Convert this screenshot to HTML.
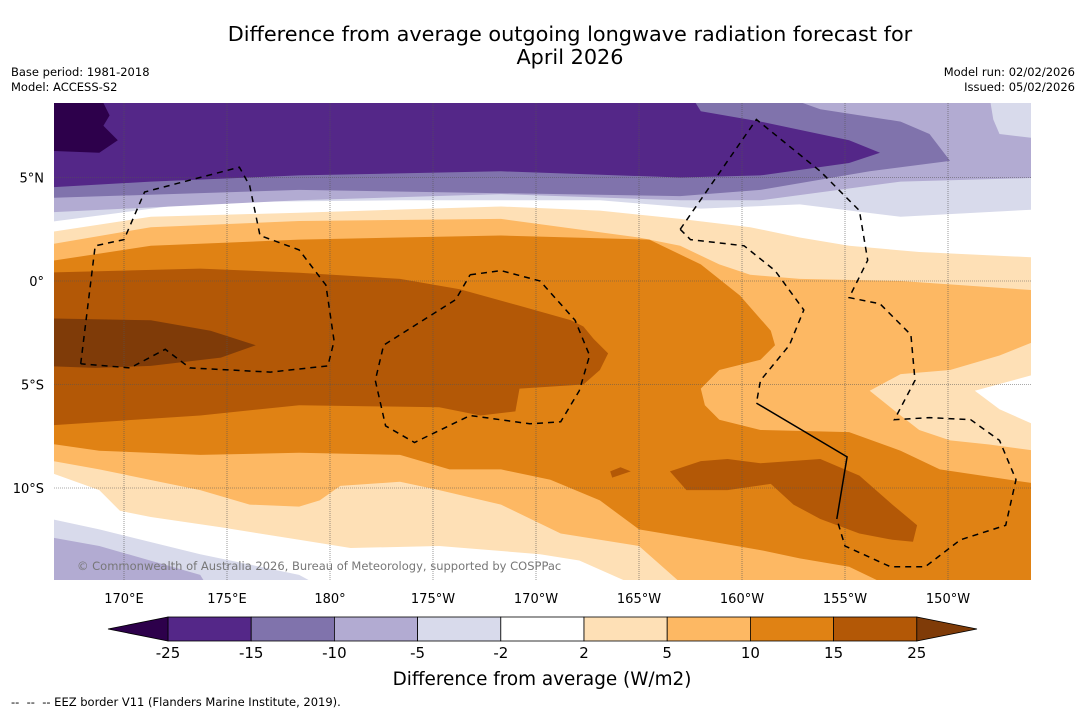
<!DOCTYPE html>
<html><head><meta charset="utf-8"><style>
body{margin:0;background:#fff;font-family:"Liberation Sans","DejaVu Sans",sans-serif;}
svg{display:block}
</style></head><body>
<svg id="root" width="1085" height="713" xmlns="http://www.w3.org/2000/svg">
<rect width="1085" height="713" fill="#fff"/>
<text x="570" y="41" text-anchor="middle" font-size="20.8" font-family="DejaVu Sans, sans-serif">Difference from average outgoing longwave radiation forecast for</text>
<text x="570" y="64" text-anchor="middle" font-size="20.8" font-family="DejaVu Sans, sans-serif">April 2026</text>
<g font-size="11.5" font-family="DejaVu Sans, sans-serif">
<text x="11" y="76">Base period: 1981-2018</text>
<text x="11" y="91">Model: ACCESS-S2</text>
<text x="1075" y="76" text-anchor="end">Model run: 02/02/2026</text>
<text x="1075" y="91" text-anchor="end">Issued: 05/02/2026</text>
<text x="11" y="706" font-size="11.5">-- &#160;-- &#160;-- EEZ border V11 (Flanders Marine Institute, 2019).</text>
</g>
<defs><clipPath id="mapclip"><rect x="54" y="103" width="977" height="477"/></clipPath></defs>
<g id="map" clip-path="url(#mapclip)"></g>
<g id="axes" font-size="13" font-family="DejaVu Sans, sans-serif"></g>
<text x="77" y="570" font-size="11.5" fill="#777" font-family="DejaVu Sans, sans-serif">© Commonwealth of Australia 2026, Bureau of Meteorology, supported by COSPPac</text>
<g id="cbar" font-size="15" font-family="DejaVu Sans, sans-serif"></g>
<text x="542" y="685" text-anchor="middle" font-size="18.4" font-family="DejaVu Sans, sans-serif">Difference from average (W/m2)</text>
</svg>
<script>
const lonTicks=[170,175,180,185,190,195,200,205,210];
const lonLabels=["170°E","175°E","180°","175°W","170°W","165°W","160°W","155°W","150°W"];
const latTicks=[5,0,-5,-10];
const latLabels=["5°N","0°","5°S","10°S"];
const levels=[-25,-15,-10,-5,-2,2,5,10,15,25];
const levelColors=["#542788","#8073ac","#b2abd2","#d8daeb","#ffffff","#fee0b6","#fdb863","#e08214","#b35806"];
const underColor="#2d004b", overColor="#7f3b08";
// contour regions [lon,lat], painted in order
const regGE2=[[166,2.3],[171.3,3.1],[178.5,3.3],[188.3,3.6],[193.1,3.4],[197,3.0],[200.4,2.6],[202.8,2.1],[205.2,1.7],[208.6,1.4],[215,1.1],[215,-15],[195.5,-15],[192.1,-13.5],[190.2,-13.2],[185.3,-12.8],[181,-12.9],[178.5,-12.5],[174.7,-11.9],[171.3,-11.4],[169.8,-11.1],[168.8,-10.1],[166,-9.1]];
const regGE5=[[166,1.7],[171.3,2.6],[178.5,2.9],[188.3,3.0],[195,2.1],[197,1.7],[198.9,0.8],[200.4,0.3],[202.8,0.1],[207.7,0.0],[215,-0.5],[215,-15],[197.5,-15],[195,-12.8],[191.2,-12.2],[188.3,-10.8],[185.3,-10.1],[183.4,-9.7],[180.5,-9.9],[179.5,-10.6],[178.5,-10.9],[176.1,-10.8],[173.7,-10.1],[168.8,-9.1],[166,-8.6]];
const regHole2=[[206.2,-5.3],[207.7,-4.5],[210.1,-4.3],[212.5,-3.6],[215,-2.6],[215,-8.3],[212,-7.9],[210.1,-7.7],[208.6,-7.2],[207.7,-6.5]];
const regHoleWhite=[[215,-4.3],[211.3,-5.3],[212.5,-6.2],[215,-7.3]];
const regGE10=[[166,0.9],[171.3,1.7],[178.5,2.0],[188.3,2.2],[195.5,2.0],[198,0.8],[199.9,-0.7],[201.4,-2.4],[201.6,-3.1],[200.9,-3.8],[198.9,-4.3],[198,-5.2],[198.2,-6.0],[198.9,-6.7],[200.9,-7.2],[205.2,-7.3],[207.7,-8.2],[209.6,-9.1],[215,-9.9],[215,-15],[207.7,-15],[205.2,-13.8],[202.8,-13.4],[200.9,-13.0],[198,-12.5],[195,-12.0],[193.1,-10.6],[190.7,-9.6],[188.3,-9.1],[185.8,-9.1],[183.4,-8.4],[178.5,-8.3],[173.7,-8.4],[168.8,-8.2],[166,-7.8]];
const regGE15=[[166,0.4],[173.7,0.6],[178.5,0.4],[183.4,0.1],[186.3,-0.4],[189.2,-1.2],[191.7,-1.9],[192.3,-2.2],[192.8,-2.8],[193.5,-3.5],[193.1,-4.3],[192.3,-5.0],[189.2,-5.2],[189.0,-6.3],[187.3,-6.5],[185.3,-6.1],[178.5,-6.0],[173.7,-6.5],[166,-7.0]];
const regGE15b=[[196.5,-9.2],[198,-8.7],[199.3,-8.6],[200.9,-8.8],[203.8,-8.6],[205.7,-9.4],[207.3,-10.8],[208.5,-11.8],[208.3,-12.6],[207.3,-12.5],[205.7,-12.2],[203.8,-11.5],[202.5,-10.8],[201.4,-9.8],[199.3,-10.1],[197.3,-10.1]];
const regGE15c=[[193.6,-9.2],[194.1,-9.0],[194.6,-9.2],[193.7,-9.5]];
const regGE25=[[166,-1.8],[171.3,-1.9],[174.2,-2.4],[176.4,-3.1],[174.7,-3.7],[171.3,-4.1],[168.6,-4.2],[166,-4.1]];
const regLEm2=[[166,9],[215,9],[215,3.5],[207.7,3.1],[202.8,3.7],[198,3.5],[193.1,3.9],[183.4,3.9],[173.7,3.8],[166,2.8]];
const regLEm5=[[166,9],[215,9],[215,5.0],[207.7,4.8],[200.9,3.9],[197,3.9],[188.3,4.2],[178.5,3.9],[166,3.3]];
const regCorner=[[212,9],[215,9],[215,6.8],[212.5,7.1],[212.2,7.8]];
const regLEm10=[[166,9],[201.8,9],[203.8,8.3],[207.7,7.7],[209.1,7.1],[210.1,5.8],[206.2,5.3],[200.9,4.4],[197,4.1],[178.5,4.4],[166,4.0]];
const regLEm15=[[166,9],[197.5,9],[198,8.2],[200.9,7.7],[205.2,6.8],[206.7,6.2],[205.2,5.7],[200.9,5.1],[197,5.0],[188.3,5.3],[178.5,5.1],[171.3,4.8],[166,4.5]];
const regLEm25=[[166,9],[168.8,9],[169.3,8.0],[169.0,7.5],[169.7,6.8],[168.8,6.2],[166,6.3]];
const regBL2=[[166,-11.4],[168.8,-12.0],[173.7,-13.2],[178.5,-14.2],[180,-15],[166,-15]];
const regBL5=[[166,-12.3],[168.8,-12.8],[173.7,-14.2],[174.2,-15],[166,-15]];
const eezA=[[167.9,-4.0],[168.6,1.7],[170,2.0],[171,4.3],[175.6,5.5],[176.1,4.6],[176.6,2.2],[178.5,1.5],[179.8,-0.2],[180.2,-2.9],[179.9,-4.1],[177.1,-4.4],[173.2,-4.2],[172,-3.3],[170.3,-4.2],[167.9,-4.0]];
const eezB=[[186.8,0.3],[188.3,0.5],[190.2,0.0],[191.9,-1.9],[192.6,-3.6],[192.1,-5.3],[191.2,-6.8],[189.7,-6.9],[186.8,-6.5],[184.1,-7.8],[182.7,-7.0],[182.2,-4.8],[182.6,-3.1],[186.1,-0.9],[186.8,0.3]];
const eezC1=[[197,2.5],[200.7,7.8],[203.8,5.3],[205.7,3.4],[206.1,1.0],[205.2,-0.8],[206.7,-1.1],[208.2,-2.6],[208.4,-4.8],[207.4,-6.7],[209.1,-6.6],[211.1,-6.7],[212.5,-7.7],[213.3,-9.6],[212.8,-11.8],[210.6,-12.5],[208.9,-13.8],[207.2,-13.8],[205,-12.8],[204.6,-11.5]];
const eezC2=[[197,2.5],[197.5,2.0],[200.1,1.7],[201.6,0.5],[203,-1.4],[202.3,-3.1],[200.9,-4.8],[200.7,-5.9]];
const eezSolid=[[200.7,-5.9],[205.1,-8.5],[204.6,-11.5]];

const NS="http://www.w3.org/2000/svg";
const xS=lon=>124+(lon-170)*20.6;
const yS=lat=>281-lat*20.7;
const map=document.getElementById('map');
function pts(a){return a.map(p=>xS(p[0]).toFixed(1)+","+yS(p[1]).toFixed(1)).join(" ");}
function poly(a,fill,name){const e=document.createElementNS(NS,'polygon');e.setAttribute('points',pts(a));e.setAttribute('fill',fill);


map.appendChild(e);}
function line(a,dash,name){const e=document.createElementNS(NS,'polyline');e.setAttribute('points',pts(a));e.setAttribute('fill','none');e.setAttribute('stroke','#000');e.setAttribute('stroke-width','1.5');if(dash)e.setAttribute('stroke-dasharray','6,5');


map.appendChild(e);}
const bg=document.createElementNS(NS,'rect');bg.setAttribute('x',54);bg.setAttribute('y',103);bg.setAttribute('width',977);bg.setAttribute('height',477);bg.setAttribute('fill','#fff');


map.appendChild(bg);
poly(regGE2,levelColors[5],'region-2-to-5');
poly(regGE5,levelColors[6],'region-5-to-10');
poly(regHole2,levelColors[5],'region-2-to-5-east');
poly(regHoleWhite,levelColors[4],'region-neutral-east');
poly(regGE10,levelColors[7],'region-10-to-15');
poly(regGE15,levelColors[8],'region-15-to-25');
poly(regGE15b,levelColors[8],'region-15-to-25-south');
poly(regGE15c,levelColors[8],'region-15-to-25-small');
poly(regGE25,overColor,'region-over-25');
poly(regLEm2,levelColors[3],'region-minus-2-to-5');
poly(regLEm5,levelColors[2],'region-minus-5-to-10');
poly(regCorner,levelColors[3],'region-minus-2-to-5-ne');
poly(regLEm10,levelColors[1],'region-minus-10-to-15');
poly(regLEm15,levelColors[0],'region-minus-15-to-25');
poly(regLEm25,underColor,'region-under-minus-25');
poly(regBL2,levelColors[3],'region-minus-2-to-5-sw');
poly(regBL5,levelColors[2],'region-minus-5-to-10-sw');
lonTicks.forEach(l=>{const g=document.createElementNS(NS,'line');g.setAttribute('x1',xS(l));g.setAttribute('x2',xS(l));g.setAttribute('y1',103);g.setAttribute('y2',580);g.setAttribute('stroke','#555');g.setAttribute('stroke-width','0.6');g.setAttribute('stroke-dasharray','1,1');


map.appendChild(g);});
latTicks.forEach(l=>{const g=document.createElementNS(NS,'line');g.setAttribute('y1',yS(l));g.setAttribute('y2',yS(l));g.setAttribute('x1',54);g.setAttribute('x2',1031);g.setAttribute('stroke','#555');g.setAttribute('stroke-width','0.6');g.setAttribute('stroke-dasharray','1,1');


map.appendChild(g);});
line(eezA,true,'eez-border-west');
line(eezB,true,'eez-border-central');
line(eezC1,true,'eez-border-east');
line(eezC2,true,'eez-border-east-inner');
line(eezSolid,false,'eez-border-solid');
const axes=document.getElementById('axes');
lonTicks.forEach((l,i)=>{const t=document.createElementNS(NS,'text');t.setAttribute('x',xS(l));t.setAttribute('y',603);t.setAttribute('text-anchor','middle');t.textContent=lonLabels[i];


axes.appendChild(t);});
latTicks.forEach((l,i)=>{const t=document.createElementNS(NS,'text');t.setAttribute('x',44);t.setAttribute('y',yS(l)+5);t.setAttribute('text-anchor','end');t.textContent=latLabels[i];


axes.appendChild(t);});
const cb=document.getElementById('cbar');
const cx0=168,cw=83.2,cy=617,ch=24;
const cX=i=>cx0+i*cw;
levelColors.forEach((c,i)=>{const r=document.createElementNS(NS,'rect');r.setAttribute('x',cX(i));r.setAttribute('y',cy);r.setAttribute('width',cw);r.setAttribute('height',ch);r.setAttribute('fill',c);r.setAttribute('stroke','#000');r.setAttribute('stroke-width','0.8');


cb.appendChild(r);});
const tl=document.createElementNS(NS,'polygon');tl.setAttribute('points',`${cX(0)},${cy} ${cX(0)},${cy+ch} 108,${cy+ch/2}`);tl.setAttribute('fill',underColor);tl.setAttribute('stroke','#000');tl.setAttribute('stroke-width','0.8');


cb.appendChild(tl);
const n=levelColors.length;
const tr=document.createElementNS(NS,'polygon');tr.setAttribute('points',`${cX(n)},${cy} ${cX(n)},${cy+ch} 977,${cy+ch/2}`);tr.setAttribute('fill',overColor);tr.setAttribute('stroke','#000');tr.setAttribute('stroke-width','0.8');


cb.appendChild(tr);
levels.forEach((v,i)=>{const t=document.createElementNS(NS,'text');t.setAttribute('x',cX(i));t.setAttribute('y',658);t.setAttribute('text-anchor','middle');t.textContent=v;


cb.appendChild(t);});
</script>
</body></html>
